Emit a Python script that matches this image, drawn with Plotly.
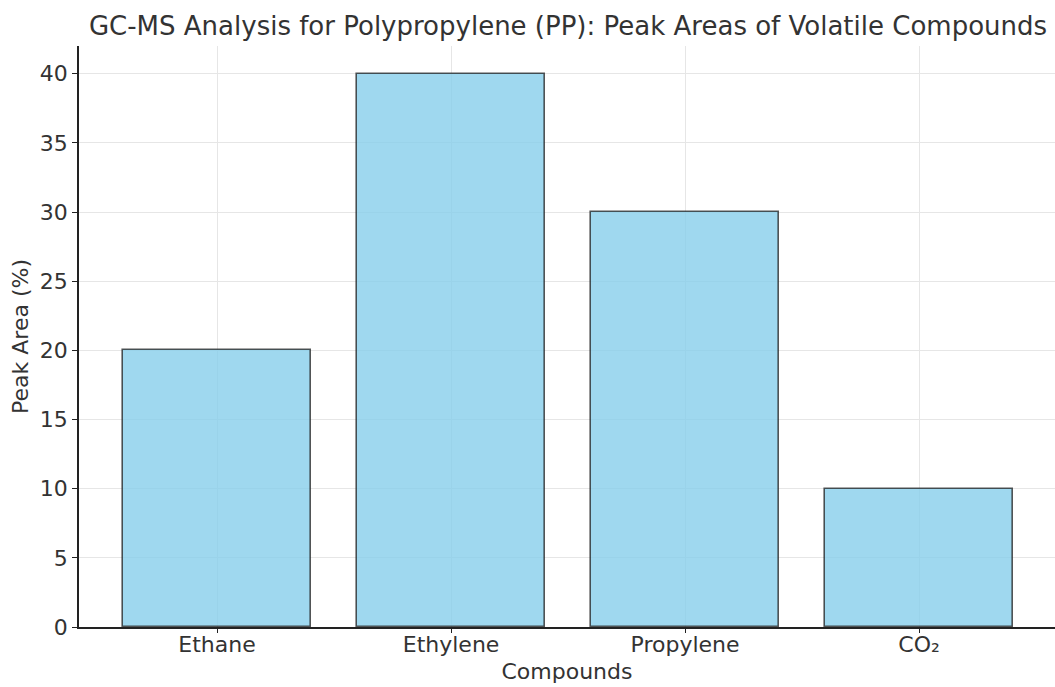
import plotly.graph_objects as go

compounds = ["Ethane", "Ethylene", "Propylene", "CO₂"]
peak_areas = [20, 40, 30, 10]
y_ticks = [0, 5, 10, 15, 20, 25, 30, 35, 40]

fig = go.Figure()
fig.add_trace(go.Bar(
    x=list(range(len(compounds))),
    y=peak_areas,
    width=0.8,
    marker=dict(color="rgba(135,206,235,0.8)",
                line=dict(color="rgba(30,30,30,0.75)", width=1.6)),
))

fig.update_layout(
    width=1055, height=687,
    margin=dict(l=79, r=0, t=46, b=60),
    paper_bgcolor="white", plot_bgcolor="white",
    font=dict(family="DejaVu Sans", size=22, color="#333333"),
    showlegend=False,
    bargap=0,
    title=dict(text="GC-MS Analysis for Polypropylene (PP): Peak Areas of Volatile Compounds",
               x=(79 + 1057) / 2 / 1055, xanchor="center",
               y=1 - 26 / 687, yanchor="middle", yref="container",
               font=dict(size=26, color="#333333")),
)
fig.update_xaxes(
    range=[-0.59, -0.59 + 976 / 234],
    tickmode="array", tickvals=list(range(len(compounds))), ticktext=compounds,
    showline=True, linecolor="#222222", linewidth=1.6, mirror=False,
    ticks="outside", ticklen=4, tickcolor="#222222",
    ticklabelstandoff=-7,
    showgrid=True, gridcolor="#e6e6e6", gridwidth=1,
    zeroline=False,
    title=dict(text="Compounds", standoff=7, font=dict(size=22)),
)
fig.update_yaxes(
    range=[0, 42],
    tickmode="array", tickvals=y_ticks,
    showline=True, linecolor="#222222", linewidth=1.6, mirror=False,
    ticks="outside", ticklen=5, tickcolor="#222222",
    showgrid=True, gridcolor="#e6e6e6", gridwidth=1,
    zeroline=False,
    title=dict(text="Peak Area (%)", standoff=5, font=dict(size=22)),
)

fig.write_html("out.html")
